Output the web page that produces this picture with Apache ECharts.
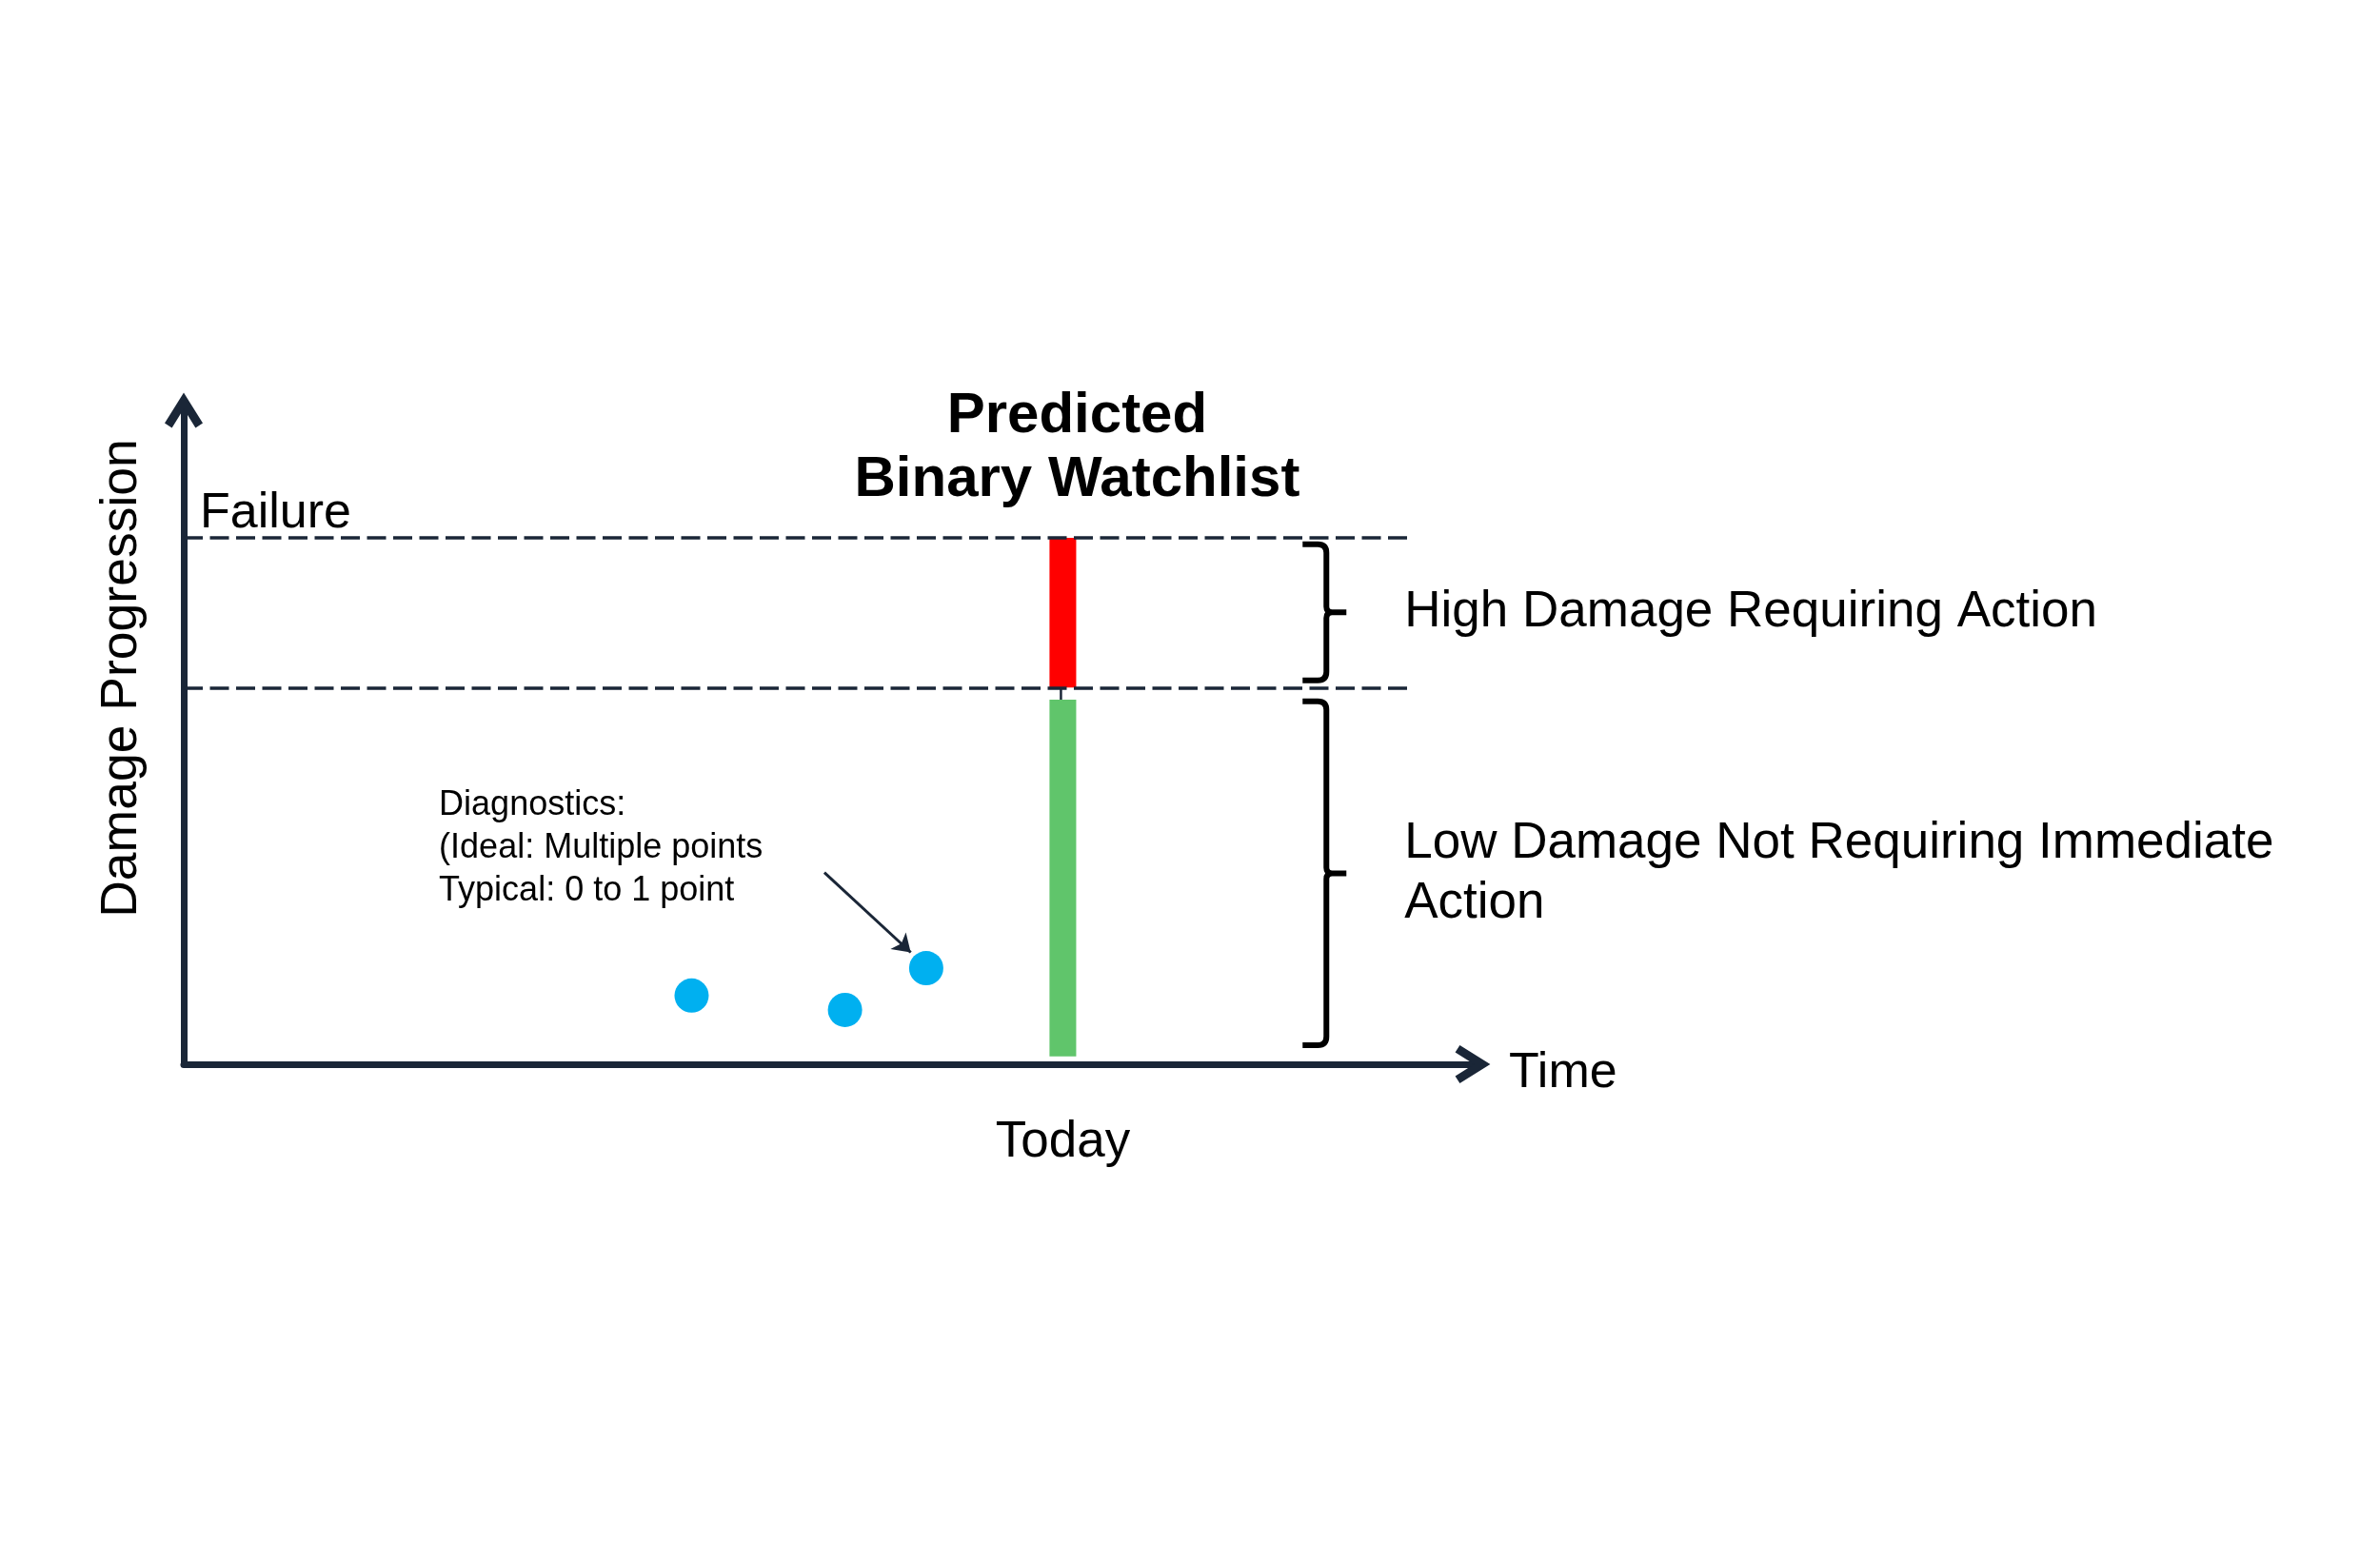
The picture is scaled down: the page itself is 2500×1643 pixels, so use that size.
<!DOCTYPE html>
<html><head><meta charset="utf-8">
<script src="https://cdn.jsdelivr.net/npm/echarts@6/dist/echarts.min.js"></script>
<style>html,body{margin:0;padding:0;background:#fff}#chart{width:2500px;height:1643px}</style>
</head><body><div id="chart"></div>
<script>
// ---- data ----
const timeRange = [0, 100];
const damageRange = [0, 100];
const todayTime = 68.2;
const todayLabel = 'Today';
const timeLabel = 'Time';
const damageLabel = 'Damage Progression';
const failureLabel = 'Failure';
const failureDamage = 80.5;
const actionDamage = 57.6;
const thresholdLineEnd = 95.2;
const watchlistNames = ['High damage', 'Low damage'];
const watchlistLow = [57.6, 1.2];
const watchlistHigh = [80.5, 55.75];
const titleLines = ['Predicted', 'Binary Watchlist'];
const diagnosticsTime = [39.4, 51.3, 57.6];
const diagnosticsDamage = [10.5, 8.3, 14.7];
const pointerFrom = [49.7, 29.3];
const pointerTo = [56.4, 17.1];
const diagnosticsNote = ['Diagnostics:', '(Ideal: Multiple points', 'Typical: 0 to 1 point'];
const notePosition = [19.8, 42.8];
const braceTime = 86.8;
const braceTop = [79.5, 55.5];
const braceBottom = [58.7, 2.9];
const braceLabels = ['High Damage Requiring Action', 'Low Damage Not Requiring Immediate\nAction'];

// ---- styles ----
const DARK = '#1a2637';
const FONT = '"Liberation Sans", Arial, sans-serif';
const barColors = ['#ff0000', '#60c56b'];
const chevron = 'path://M20 0L40 32L32.4 36.8L20 17L7.6 36.8L0 32Z';

const chart = echarts.init(document.getElementById('chart'), null, {renderer: 'canvas'});
const option = {
  backgroundColor: '#ffffff',
  animation: false,
  grid: {left: 193, right: 953, top: 431, bottom: 525, outerBoundsMode: 'none', containLabel: false},
  xAxis: {
    type: 'value', min: timeRange[0], max: timeRange[1],
    splitLine: {show: false}, axisTick: {show: false},
    axisLine: {show: true, onZero: false, lineStyle: {color: DARK, width: 7}, symbol: ['none', chevron], symbolSize: [40, 36.8]},
    axisLabel: {show: true, customValues: [todayTime], formatter: () => todayLabel, margin: 56,
      color: '#000', fontSize: 53, fontFamily: FONT, lineHeight: 53},
    name: timeLabel, nameLocation: 'end', nameGap: 38,
    nameTextStyle: {color: '#000', fontSize: 52, fontFamily: FONT, align: 'left', verticalAlign: 'top', lineHeight: 20}
  },
  yAxis: {
    type: 'value', min: damageRange[0], max: damageRange[1],
    splitLine: {show: false}, axisTick: {show: false}, axisLabel: {show: false},
    axisLine: {show: true, onZero: false, lineStyle: {color: DARK, width: 7}, symbol: ['none', chevron], symbolSize: [40, 36.8]},
    name: damageLabel, nameLocation: 'middle', nameGap: 38, nameRotate: 90,
    nameTextStyle: {color: '#000', fontSize: 53.5, fontFamily: FONT, padding: [0, 0, 0, 124]}
  },
  series: [
    {
      type: 'line', name: 'Thresholds', data: [], silent: true,
      markLine: {
        silent: true, symbol: ['none', 'none'], animation: false,
        lineStyle: {color: DARK, width: 3.5, type: [20, 7.5]},
        data: [
          [{coord: [timeRange[0], failureDamage], label: {show: true, formatter: failureLabel, position: 'insideStartTop', distance: [17, -1], color: '#000', fontSize: 52, fontFamily: FONT, lineHeight: 52}},
           {coord: [thresholdLineEnd, failureDamage]}],
          [{coord: [timeRange[0], actionDamage], label: {show: false}}, {coord: [thresholdLineEnd, actionDamage]}]
        ]
      }
    },
    {
      type: 'custom', name: 'Predicted Binary Watchlist',
      data: watchlistNames.map((n, i) => [todayTime, watchlistLow[i], watchlistHigh[i]]),
      encode: {x: 0, y: [1, 2]},
      renderItem(params, api) {
        const i = params.dataIndex;
        const x = api.value(0);
        const pHi = api.coord([x, api.value(2)]);
        const pLo = api.coord([x, api.value(1)]);
        const w = api.size([2.07, 0])[0];
        const children = [{type: 'rect', shape: {x: pHi[0] - w / 2, y: pHi[1], width: w, height: pLo[1] - pHi[1]}, style: {fill: barColors[i]}}];
        if (i === 0) {
          const gTop = api.coord([x, watchlistHigh[1]]);
          children.push({type: 'line', shape: {x1: pLo[0] - 2, y1: pLo[1], x2: pLo[0] - 2, y2: gTop[1]}, style: {stroke: DARK, lineWidth: 2.5}});
          children.push({type: 'text', style: {text: titleLines.join('\n'), x: pHi[0] + 15, y: pHi[1] - 27,
            align: 'center', verticalAlign: 'bottom', font: 'bold 60px ' + FONT, lineHeight: 67, fill: '#000'}});
        }
        return {type: 'group', children};
      }
    },
    {
      type: 'scatter', name: 'Diagnostics', symbol: 'circle', symbolSize: 36,
      itemStyle: {color: '#00b0f0', opacity: 1},
      data: diagnosticsTime.map((t, i) => [t, diagnosticsDamage[i]]),
      markLine: {
        silent: true, symbol: ['none', 'arrow'], symbolSize: 18, animation: false,
        lineStyle: {color: DARK, width: 3, type: 'solid'}, label: {show: false},
        data: [[{coord: pointerFrom}, {coord: pointerTo}]]
      }
    },
    {
      type: 'custom', name: 'Diagnostics note', data: [notePosition],
      renderItem(params, api) {
        const p = api.coord([api.value(0), api.value(1)]);
        return {type: 'text', style: {text: diagnosticsNote.join('\n'), x: p[0], y: p[1], align: 'left', verticalAlign: 'top',
          font: '36px ' + FONT, lineHeight: 45, fill: '#000'}};
      }
    },
    {
      type: 'custom', name: 'Damage bands',
      data: braceTop.map((t, i) => [braceTime, braceBottom[i], t]),
      encode: {x: 0, y: [1, 2]},
      renderItem(params, api) {
        const i = params.dataIndex;
        const top = api.coord([api.value(0), api.value(2)]);
        const bot = api.coord([api.value(0), api.value(1)]);
        const xL = top[0], yT = top[1], yB = bot[1], yM = (yT + yB) / 2;
        const xV = xL + 25, xR = xL + 46, r = 9;
        const d = `M${xL} ${yT} L${xV - r} ${yT} Q${xV} ${yT} ${xV} ${yT + r} L${xV} ${yM - 6} Q${xV} ${yM} ${xV + 6} ${yM} L${xR} ${yM} M${xV + 6} ${yM} Q${xV} ${yM} ${xV} ${yM + 6} L${xV} ${yB - r} Q${xV} ${yB} ${xV - r} ${yB} L${xL} ${yB}`;
        return {type: 'group', children: [
          {type: 'path', shape: {pathData: d}, style: {stroke: '#000', lineWidth: 6, fill: null, lineJoin: 'round'}},
          {type: 'text', style: {text: braceLabels[i], x: xL + 107, y: yM, align: 'left', verticalAlign: 'middle',
            font: '53px ' + FONT, lineHeight: 63, fill: '#000'}}
        ]};
      }
    }
  ]
};
chart.setOption(option);
</script></body></html>
